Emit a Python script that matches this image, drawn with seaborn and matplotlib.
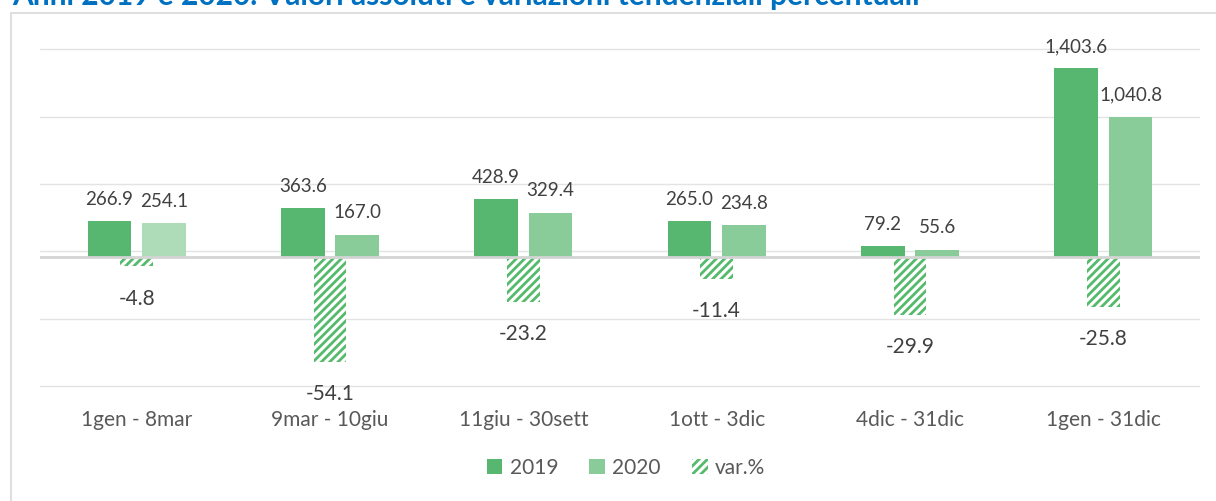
import numpy as np
import pandas as pd
import matplotlib
matplotlib.use("Agg")
import matplotlib.pyplot as plt
from matplotlib.patches import Patch, Rectangle
import seaborn as sns

# ---- data ----
categories = ["1gen - 8mar", "9mar - 10giu", "11giu - 30sett", "1ott - 3dic", "4dic - 31dic", "1gen - 31dic"]
values_2019 = [266.9, 363.6, 428.9, 265.0, 79.2, 1403.6]
values_2020 = [254.1, 167.0, 329.4, 234.8, 55.6, 1040.8]
var_pct = [-4.8, -54.1, -23.2, -11.4, -29.9, -25.8]
series_names = ["2019", "2020", "var.%"]
title = "Anni 2019 e 2020. Valori assoluti e variazioni tendenziali percentuali"

# ---- style ----
sns.set_theme(style="white")
plt.rcParams["font.family"] = ["Lato", "DejaVu Sans"]
plt.rcParams["hatch.linewidth"] = 2.0

C19 = "#57B770"
C20 = "#89CC9A"
C20_LIGHT = "#AEDBB8"
CHATCH = "#55BA6C"
GRID = "#E3E3E3"
LABEL = "#404040"
TICK = "#595959"
HATCH = "////"

W, H = 1216, 501
fig = plt.figure(figsize=(W / 100, H / 100), dpi=100)

# axes placement (pixel based)
left_px, right_px = 40, 1200
top_px, bot_px = 40, 395
ax = fig.add_axes([left_px / W, 1 - bot_px / H, (right_px - left_px) / W, (bot_px - top_px) / H])

zero_px = 257
s1 = 0.1346   # px per unit, primary
s2 = 1.945    # px per unit, secondary

df = pd.DataFrame({
    "periodo": categories * 2,
    "anno": [series_names[0]] * len(categories) + [series_names[1]] * len(categories),
    "valore": values_2019 + values_2020,
})

sns.barplot(data=df, x="periodo", y="valore", hue="anno", order=categories,
            palette=[C19, C20], width=0.564, gap=0.2, saturation=1,
            legend=False, ax=ax, linewidth=0, zorder=2)
ax.containers[1][0].set_facecolor(C20_LIGHT)

ax.set_ylim(-(bot_px - zero_px) / s1, (zero_px - top_px) / s1)
ax.set_xlim(-0.5, len(categories) - 0.5)

grid_ticks = [-958, -458, 42, 542, 1042, 1542]
ax.set_yticks(grid_ticks)
ax.yaxis.grid(True, color=GRID, linewidth=1.0)
ax.set_axisbelow(True)
ax.tick_params(axis="y", length=0, labelleft=False)
ax.tick_params(axis="x", length=0, pad=11, labelsize=15, labelcolor=TICK)
ax.set_xlabel("")
ax.set_ylabel("")
for sp in ax.spines.values():
    sp.set_visible(False)

for cont, vals in zip(ax.containers, [values_2019, values_2020]):
    ax.bar_label(cont, labels=[f"{v:,.1f}" for v in vals], padding=9.5,
                 fontsize=13.5, color=LABEL)

# secondary axis for var.%
ax2 = ax.twinx()
sns.barplot(x=categories, y=var_pct, order=categories, ax=ax2, width=0.168,
            color="white", saturation=1, linewidth=0, zorder=2)
for p in ax2.patches:
    p.set_facecolor("white")
    p.set_edgecolor(CHATCH)
    p.set_hatch(HATCH)
    p.set_linewidth(0)
ax2.set_ylim(-(bot_px - zero_px) / s2, (zero_px - top_px) / s2)
ax2.set_xlim(-0.5, len(categories) - 0.5)
ax2.tick_params(axis="y", length=0, labelright=False)
ax2.set_ylabel("")
ax2.grid(False)
for sp in ax2.spines.values():
    sp.set_visible(False)
ax2.bar_label(ax2.containers[0], labels=[f"{v:.1f}" for v in var_pct], padding=16,
              fontsize=15, color=LABEL)
ax2.axhline(0, color="#D4D4D4", linewidth=2.0, zorder=5)

# legend
handles = [
    Patch(facecolor=C19, edgecolor="none"),
    Patch(facecolor=C20, edgecolor="none"),
    Patch(facecolor="white", edgecolor=CHATCH, hatch=HATCH, linewidth=0),
]
fig.legend(handles, series_names, loc="center", bbox_to_anchor=(626 / W, 1 - 468 / H),
           ncol=3, frameon=False, fontsize=15, labelcolor=TICK,
           handlelength=0.75, handleheight=0.75, handletextpad=0.35, columnspacing=1.5)

# chart border
fig.add_artist(Rectangle((11 / W, -0.05), 1.1, 1.05 - 12.7 / H, transform=fig.transFigure,
                         fill=False, edgecolor="#D9D9D9", linewidth=1.2, clip_on=False))

# title (cut at top, as in the reference)
fig.text(12 / W, 1 - 5 / H, title, fontsize=21.5, fontweight="bold", color="#0070C0",
         va="baseline", ha="left")

fig.savefig("out.png", dpi=100)
